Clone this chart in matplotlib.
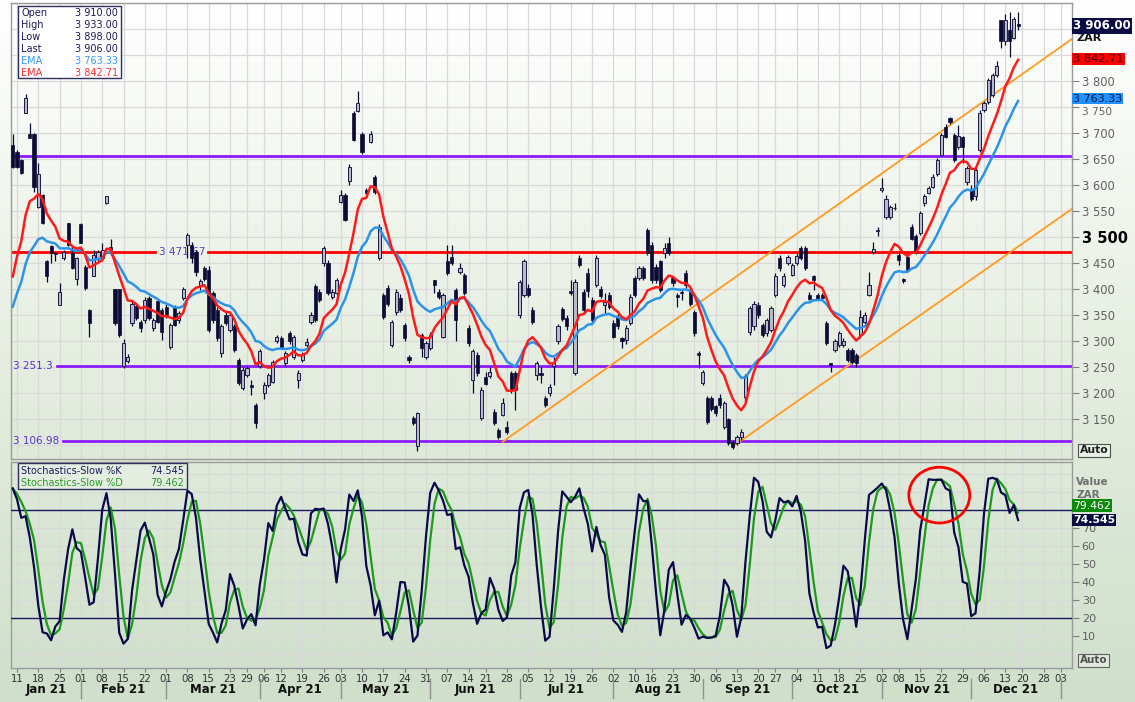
import numpy as np
import pandas as pd
import matplotlib
matplotlib.use("Agg")
import matplotlib.pyplot as plt
from matplotlib.patches import Rectangle, Ellipse
from matplotlib.colors import LinearSegmentedColormap

plt.rcParams['font.family'] = ['DejaVu Sans']

# ---------------- data (daily candles, 8 Jan 2021 .. 17 Dec 2021) ----------------
opens = [3677, 3664, 3648, 3739, 3699, 3699, 3558, 3581, 3453, 3483,
         3470, 3369, 3459, 3526, 3469, 3419, 3525, 3443, 3360, 3424,
         3459, 3459, 3565, 3481, 3399, 3399, 3251, 3262, 3334, 3368,
         3337, 3340, 3382, 3324, 3376, 3360, 3366, 3289, 3366, 3340,
         3382, 3485, 3485, 3472, 3405, 3440, 3437, 3392, 3360, 3276,
         3350, 3321, 3328, 3263, 3209, 3235, 3216, 3177, 3251, 3199,
         3215, 3222, 3299, 3305, 3257, 3315, 3270, 3225, 3264, 3292,
         3337, 3405, 3395, 3449, 3449, 3385, 3392, 3568, 3581, 3607,
         3738, 3743, 3699, 3590, 3683, 3616, 3459, 3388, 3401, 3292,
         3356, 3382, 3331, 3269, 3151, 3098, 3312, 3270, 3286, 3417,
         3395, 3308, 3453, 3462, 3398, 3433, 3427, 3324, 3225, 3273,
         3151, 3231, 3232, 3164, 3129, 3158, 3135, 3238, 3238, 3350,
         3389, 3401, 3360, 3235, 3239, 3190, 3199, 3251, 3299, 3361,
         3344, 3396, 3238, 3459, 3395, 3430, 3379, 3408, 3399, 3369,
         3389, 3334, 3347, 3305, 3302, 3334, 3421, 3421, 3440, 3514,
         3485, 3443, 3453, 3469, 3489, 3421, 3389, 3395, 3430, 3398,
         3356, 3276, 3219, 3190, 3190, 3174, 3190, 3135, 3149, 3106,
         3104, 3116, 3193, 3318, 3328, 3369, 3331, 3315, 3321, 3389,
         3459, 3408, 3449, 3427, 3449, 3478, 3478, 3389, 3424, 3389,
         3388, 3334, 3257, 3283, 3292, 3292, 3283, 3283, 3273, 3311,
         3337, 3389, 3472, 3512, 3590, 3539, 3539, 3555, 3465, 3419,
         3462, 3520, 3501, 3507, 3565, 3585, 3597, 3622, 3658, 3712,
         3728, 3696, 3674, 3693, 3606, 3590, 3578, 3667, 3744, 3760,
         3773, 3811, 3917, 3876, 3898, 3882, 3910]
highs = [3699, 3668, 3650, 3775, 3720, 3700, 3642, 3583, 3456, 3485,
         3472, 3411, 3475, 3526, 3482, 3462, 3526, 3446, 3361, 3475,
         3475, 3488, 3578, 3497, 3399, 3399, 3303, 3275, 3376, 3372,
         3340, 3385, 3386, 3345, 3380, 3364, 3372, 3335, 3370, 3358,
         3404, 3508, 3490, 3475, 3420, 3445, 3445, 3396, 3365, 3332,
         3355, 3355, 3332, 3268, 3250, 3252, 3225, 3180, 3285, 3222,
         3238, 3264, 3312, 3310, 3280, 3320, 3312, 3245, 3278, 3305,
         3355, 3410, 3400, 3482, 3455, 3400, 3422, 3590, 3585, 3640,
         3742, 3780, 3702, 3595, 3703, 3620, 3525, 3393, 3408, 3340,
         3400, 3390, 3335, 3273, 3156, 3163, 3316, 3300, 3318, 3418,
         3400, 3392, 3485, 3485, 3402, 3450, 3430, 3330, 3285, 3278,
         3212, 3240, 3250, 3170, 3132, 3190, 3147, 3242, 3242, 3418,
         3458, 3410, 3365, 3262, 3250, 3195, 3218, 3270, 3333, 3366,
         3350, 3417, 3420, 3465, 3400, 3440, 3385, 3465, 3405, 3392,
         3395, 3340, 3352, 3308, 3330, 3390, 3425, 3445, 3445, 3518,
         3490, 3448, 3456, 3488, 3500, 3425, 3392, 3398, 3437, 3402,
         3360, 3280, 3245, 3195, 3195, 3176, 3198, 3185, 3152, 3110,
         3120, 3130, 3236, 3368, 3376, 3375, 3335, 3345, 3368, 3430,
         3465, 3430, 3466, 3450, 3470, 3482, 3482, 3395, 3426, 3392,
         3392, 3338, 3258, 3303, 3320, 3305, 3286, 3286, 3276, 3360,
         3355, 3433, 3491, 3520, 3613, 3580, 3562, 3565, 3472, 3422,
         3466, 3525, 3506, 3550, 3582, 3598, 3622, 3652, 3700, 3718,
         3731, 3700, 3715, 3695, 3636, 3600, 3632, 3745, 3762, 3806,
         3816, 3838, 3918, 3928, 3933, 3924, 3933]
lows = [3632, 3632, 3621, 3738, 3690, 3587, 3555, 3525, 3414, 3450,
        3453, 3369, 3456, 3482, 3438, 3408, 3488, 3398, 3308, 3424,
        3453, 3456, 3564, 3465, 3331, 3308, 3248, 3257, 3329, 3340,
        3318, 3335, 3340, 3320, 3334, 3302, 3345, 3285, 3328, 3335,
        3378, 3460, 3450, 3425, 3398, 3415, 3318, 3335, 3300, 3270,
        3330, 3318, 3278, 3215, 3205, 3230, 3196, 3132, 3248, 3188,
        3212, 3220, 3296, 3285, 3252, 3295, 3265, 3209, 3260, 3288,
        3333, 3336, 3375, 3445, 3388, 3380, 3388, 3565, 3530, 3600,
        3684, 3740, 3660, 3580, 3680, 3583, 3455, 3342, 3368, 3288,
        3350, 3355, 3300, 3257, 3138, 3088, 3270, 3265, 3282, 3392,
        3380, 3305, 3427, 3447, 3299, 3428, 3388, 3290, 3200, 3232,
        3148, 3215, 3228, 3138, 3112, 3155, 3122, 3200, 3167, 3345,
        3385, 3385, 3333, 3225, 3219, 3173, 3195, 3215, 3295, 3338,
        3321, 3388, 3234, 3442, 3355, 3385, 3335, 3404, 3382, 3353,
        3362, 3305, 3323, 3286, 3295, 3330, 3385, 3418, 3418, 3465,
        3412, 3412, 3395, 3459, 3465, 3406, 3366, 3379, 3401, 3368,
        3310, 3248, 3215, 3140, 3165, 3155, 3172, 3130, 3100, 3093,
        3100, 3110, 3185, 3312, 3322, 3345, 3308, 3310, 3318, 3385,
        3435, 3404, 3446, 3424, 3446, 3455, 3436, 3378, 3398, 3378,
        3378, 3292, 3241, 3278, 3288, 3288, 3260, 3256, 3250, 3305,
        3333, 3386, 3468, 3501, 3587, 3535, 3535, 3552, 3446, 3412,
        3433, 3494, 3468, 3503, 3560, 3582, 3594, 3618, 3655, 3690,
        3718, 3645, 3670, 3642, 3600, 3570, 3571, 3663, 3740, 3755,
        3770, 3808, 3863, 3870, 3847, 3880, 3898]
closes = [3634, 3634, 3624, 3767, 3690, 3597, 3622, 3526, 3424, 3469,
          3467, 3395, 3472, 3485, 3440, 3459, 3488, 3401, 3334, 3465,
          3472, 3475, 3578, 3474, 3334, 3312, 3296, 3270, 3372, 3345,
          3324, 3379, 3344, 3340, 3337, 3318, 3350, 3331, 3331, 3353,
          3399, 3504, 3459, 3433, 3415, 3420, 3321, 3340, 3305, 3328,
          3334, 3350, 3283, 3219, 3244, 3248, 3212, 3142, 3280, 3215,
          3235, 3260, 3308, 3289, 3276, 3299, 3308, 3238, 3273, 3298,
          3350, 3340, 3379, 3478, 3392, 3395, 3417, 3580, 3533, 3634,
          3687, 3757, 3664, 3584, 3698, 3587, 3520, 3347, 3372, 3337,
          3395, 3360, 3305, 3264, 3142, 3161, 3286, 3296, 3312, 3408,
          3385, 3388, 3430, 3449, 3340, 3440, 3392, 3296, 3280, 3238,
          3206, 3218, 3241, 3142, 3116, 3180, 3124, 3206, 3206, 3414,
          3453, 3389, 3337, 3257, 3235, 3177, 3212, 3257, 3328, 3342,
          3328, 3392, 3414, 3446, 3360, 3397, 3340, 3459, 3387, 3374,
          3366, 3308, 3328, 3299, 3324, 3385, 3389, 3440, 3421, 3469,
          3417, 3417, 3398, 3478, 3469, 3411, 3385, 3392, 3408, 3372,
          3315, 3273, 3241, 3145, 3170, 3161, 3177, 3180, 3103, 3097,
          3116, 3125, 3232, 3363, 3372, 3350, 3312, 3340, 3363, 3424,
          3440, 3424, 3462, 3446, 3464, 3459, 3440, 3381, 3418, 3381,
          3382, 3296, 3254, 3299, 3315, 3299, 3264, 3260, 3257, 3347,
          3350, 3408, 3476, 3514, 3594, 3574, 3558, 3556, 3456, 3416,
          3437, 3497, 3472, 3546, 3578, 3594, 3616, 3648, 3696, 3693,
          3722, 3649, 3694, 3674, 3632, 3574, 3629, 3739, 3757, 3802,
          3811, 3829, 3876, 3917, 3876, 3920, 3906]

ema_fast_start = 3424      # EMA(10) value at the first candle
ema_slow_start = 3366      # EMA(20) value at the first candle
stoch_fast_head = [92, 80, 55]   # raw %K for the first 3 candles (look-back before chart)

# values printed in the chart's legends / axis boxes
ema_slow_label = 3763.33
ema_fast_label = 3842.71
stoch_k_label = 74.545
stoch_d_label = 79.462

support_levels = [3656.0, 3251.3, 3106.98]
resist_level = 3471.67
channel_upper = [("2021-06-25", 3106), ("2022-01-06", 3883)]
channel_lower = [("2021-09-10", 3097), ("2022-01-06", 3556)]

holidays = ["2021-01-01", "2021-03-22", "2021-04-02", "2021-04-05", "2021-04-27",
            "2021-06-16", "2021-08-09", "2021-09-24", "2021-11-01", "2021-12-16",
            "2021-12-27", "2022-01-01"]

# ---------------- derived ----------------
dates = pd.bdate_range("2021-01-08", "2022-01-12", freq="C", holidays=holidays)
n = len(closes)
xi = np.arange(n)
O = np.array(opens, float); Hh = np.array(highs, float)
L = np.array(lows, float); C = np.array(closes, float)

def ema(vals, period, start):
    a = 2.0 / (period + 1)
    out = [start]
    for v in vals[1:]:
        out.append(out[-1] + a * (v - out[-1]))
    return np.array(out)

ema_fast = ema(C, 10, ema_fast_start)
ema_slow = ema(C, 20, ema_slow_start)

hh = pd.Series(Hh).rolling(5, min_periods=1).max()
ll = pd.Series(L).rolling(5, min_periods=1).min()
fastk = 100 * (pd.Series(C) - ll) / (hh - ll)
fastk.iloc[:3] = stoch_fast_head
slowk = fastk.rolling(3, min_periods=1).mean().values
slowd = pd.Series(slowk).rolling(3, min_periods=1).mean().values

def didx(s):
    return float(dates.get_indexer([pd.Timestamp(s)], method="nearest")[0])

def fmt(v, nd=2):
    return f"{v:,.{nd}f}".replace(",", " ")

# ---------------- figure ----------------
W, Hp = 1135, 702
fig = plt.figure(figsize=(W / 100, Hp / 100), dpi=100)

def rect(l, t, r, b):
    return [l / W, 1 - b / Hp, (r - l) / W, (b - t) / Hp]

bgax = fig.add_axes([0, 0, 1, 1], zorder=-10)
cmap = LinearSegmentedColormap.from_list("bg", ["#ffffff", "#e6eee1", "#cfdfca"])
bgax.imshow(np.linspace(0, 1, 256).reshape(-1, 1), aspect="auto", cmap=cmap,
            extent=[0, 1, 0, 1], origin="upper")
bgax.set_axis_off()

XL = (-0.41, 248.65)
axp = fig.add_axes(rect(11, 3, 1072, 459))
axs = fig.add_axes(rect(11, 462, 1072, 668))
for a in (axp, axs):
    a.patch.set_alpha(0)
    a.set_xlim(*XL)
    for sp in a.spines.values():
        sp.set_color("#9a9a9a")
        sp.set_linewidth(1)

axp.set_ylim(3073, 3950)
axs.set_ylim(-7.8, 106.7)

# week starts
ser = pd.Series(np.arange(len(dates)), index=dates)
iso = dates.isocalendar()
wk = ser.groupby([iso.year.values, iso.week.values]).first()
week_idx = [int(i) for i in wk.values if 1 <= i <= XL[1]]
week_lab = [dates[i].strftime("%d") for i in week_idx]
mon = ser.groupby([dates.year, dates.month]).first()
mon_idx = [int(v) for v in mon.values]

# grid
for a, ys in ((axp, np.arange(3100, 3951, 50)), (axs, np.arange(0, 101, 10))):
    for wx in week_idx:
        a.axvline(wx, color="#d9d9d9", lw=0.9, zorder=0)
    for yv in ys:
        a.axhline(yv, color="#d9d9d9", lw=0.9, zorder=0)

# candles
up = C >= O
body_lo = np.minimum(O, C)
body_h = np.maximum(np.abs(C - O), 1.5)
axp.vlines(xi, L, Hh, color="#0a0a30", lw=0.9, zorder=3)
axp.bar(xi[~up], body_h[~up], bottom=body_lo[~up], width=0.74, color="#0b0b35",
        edgecolor="#0b0b35", linewidth=0.5, zorder=4)
axp.bar(xi[up], body_h[up], bottom=body_lo[up], width=0.74, color="#b9b9cb",
        edgecolor="#1a1a45", linewidth=0.7, zorder=4)

# EMAs
axp.plot(xi, ema_slow, color="#2b93e8", lw=1.8, zorder=5)
axp.plot(xi, ema_fast, color="#ff1a1a", lw=1.8, zorder=5)

# horizontal levels
frac = lambda px: (px - 11) / 1061.0
axp.axhline(support_levels[0], color="#8a1cff", lw=2, zorder=2)
axp.axhline(support_levels[1], xmin=frac(57), color="#8a1cff", lw=2, zorder=2)
axp.axhline(support_levels[2], xmin=frac(63), color="#8a1cff", lw=2, zorder=2)
axp.axhline(resist_level, xmax=frac(155), color="#ff0000", lw=2, zorder=2)
axp.axhline(resist_level, xmin=frac(208), color="#ff0000", lw=2, zorder=2)
xt = axp.get_yaxis_transform()
axp.text(frac(13), support_levels[1], "3 251.3", transform=xt, color="#5a2fd0",
         fontsize=7.5, va="center", ha="left", zorder=6)
axp.text(frac(13), support_levels[2], "3 106.98", transform=xt, color="#5a2fd0",
         fontsize=7.5, va="center", ha="left", zorder=6)
axp.text(frac(159), resist_level, "3 471.67", transform=xt, color="#5a3fc8",
         fontsize=7.5, va="center", ha="left", zorder=2)

# channel lines
for ch in (channel_upper, channel_lower):
    xs = [didx(d) for d, _ in ch]
    ys = [p for _, p in ch]
    axp.plot(xs, ys, color="#ff9a1f", lw=1.3, zorder=2, clip_on=True)

# price right axis
axp.yaxis.tick_right()
pt = list(range(3150, 3801, 50))
axp.set_yticks(pt)
axp.set_yticklabels([f"{v // 1000} {v % 1000:03d}" for v in pt])
axp.tick_params(axis="y", length=5, color="#808080", labelcolor="#606060",
                labelsize=8.3, pad=2)
for t in axp.get_yticklabels():
    if t.get_text() == "3 500":
        t.set_fontweight("bold"); t.set_fontsize(10.5); t.set_color("#000000")
    if t.get_text() == "3 750":
        t.set_fontsize(7.6)
        t.set_va("top")
axp.set_xticks([])

def rbox(ax, y, s, fc, tc, bold=False, size=8.2, pad=0.1):
    ax.text(1.001, y, s, transform=ax.get_yaxis_transform(), ha="left", va="center",
            fontsize=size, color=tc, fontweight="bold" if bold else "normal",
            bbox=dict(boxstyle=f"square,pad={pad}", fc=fc, ec="none"), zorder=20, clip_on=False)

rbox(axp, C[-1], fmt(C[-1]), "#0c0c45", "#ffffff", bold=True, size=8.5)
axp.text(1.004, 3883, "ZAR", transform=axp.get_yaxis_transform(), ha="left", va="center",
         fontsize=8, fontweight="bold", color="#101010", clip_on=False)
rbox(axp, ema_fast_label, fmt(ema_fast_label), "#ff0000", "#3a0000")
rbox(axp, ema_slow_label + 3, fmt(ema_slow_label), "#1e90ff", "#001a40", size=8.0, pad=0.06)
axp.text(1.0075, 3090, "Auto", transform=axp.get_yaxis_transform(), ha="left", va="center",
         fontsize=7.8, fontweight="bold", color="#202020", clip_on=False,
         bbox=dict(boxstyle="square,pad=0.15", fc="#e8efe4", ec="#505050", lw=0.8))

# price legend
leg = Rectangle((18, Hp - 78), 103, 72, transform=None, fc="#ffffff", ec="#303060", lw=1, zorder=30)
fig.patches.append(leg)
rows = [("Open", O[-1], "#1a1a5a"), ("High", Hh[-1], "#1a1a5a"), ("Low", L[-1], "#1a1a5a"),
        ("Last", C[-1], "#1a1a5a"), ("EMA", ema_slow_label, "#3399ff"),
        ("EMA", ema_fast_label, "#ff2a2a")]
for k, (lab, val, col) in enumerate(rows):
    yy = 1 - (13 + 12 * k) / Hp
    fig.text(21 / W, yy, lab, fontsize=7, color=col, va="center", ha="left", zorder=31)
    fig.text(118 / W, yy, fmt(val), fontsize=7, color=col, va="center", ha="right", zorder=31)

# stochastic
axs.plot(xi, slowd, color="#1c9a1c", lw=1.6, zorder=5)
axs.plot(xi, slowk, color="#0a0a4a", lw=1.6, zorder=6)
axs.axhline(80, color="#1a1a60", lw=1, zorder=3)
axs.axhline(20, color="#1a1a60", lw=1, zorder=3)
axs.add_patch(Ellipse((217.5, 88.3), 14.3, 31, fill=False, ec="#ff0000", lw=2, zorder=8))

axs.yaxis.tick_right()
st = list(range(10, 71, 10))
axs.set_yticks(st)
axs.set_yticklabels([str(v) for v in st])
axs.tick_params(axis="y", length=5, color="#808080", labelcolor="#606060", labelsize=8, pad=2)
axs.text(1.004, 95.5, "Value", transform=axs.get_yaxis_transform(), ha="left", va="center",
         fontsize=7.5, fontweight="bold", color="#707070", clip_on=False)
axs.text(1.004, 88.5, "ZAR", transform=axs.get_yaxis_transform(), ha="left", va="center",
         fontsize=7.5, fontweight="bold", color="#707070", clip_on=False)
rbox(axs, 82.5, f"{stoch_d_label:.3f}", "#0a8a0a", "#ffffff", size=7.8)
rbox(axs, 74.5, f"{stoch_k_label:.3f}", "#0a0a40", "#ffffff", bold=True, size=7.8)
axs.text(1.0075, -3.5, "Auto", transform=axs.get_yaxis_transform(), ha="left", va="center",
         fontsize=7.5, fontweight="bold", color="#505050", clip_on=False,
         bbox=dict(boxstyle="square,pad=0.15", fc="#e0e9dc", ec="#606060", lw=0.8))

sleg = Rectangle((18, Hp - 489), 169, 26, transform=None, fc="#e4eee0", ec="#303060", lw=1, zorder=30)
fig.patches.append(sleg)
for k, (lab, val, col) in enumerate([("Stochastics-Slow %K", stoch_k_label, "#1a1a60"),
                                      ("Stochastics-Slow %D", stoch_d_label, "#2a9a2a")]):
    yy = 1 - (471 + 12 * k) / Hp
    fig.text(21 / W, yy, lab, fontsize=7, color=col, va="center", ha="left", zorder=31)
    fig.text(184 / W, yy, f"{val:.3f}", fontsize=7, color=col, va="center", ha="right", zorder=31)

# x axis labels
axs.set_xticks(week_idx)
axs.set_xticklabels(week_lab)
axs.tick_params(axis="x", length=3, color="#808080", labelcolor="#303030", labelsize=7.3, pad=1)
xtr = axs.get_xaxis_transform()
bounds = [XL[0]] + [m for m in mon_idx if m > 0]
for k in range(len(bounds) - 1):
    a0, a1 = bounds[k], bounds[k + 1]
    if a1 > XL[1] + 1:
        break
    mid = (a0 + a1) / 2
    axs.text(mid, -0.102, dates[int(max(a0, 0))].strftime("%b %y"), transform=xtr,
             ha="center", va="center", fontsize=8.5, fontweight="bold", color="#101010",
             clip_on=False)
for m in mon_idx:
    if 0 < m <= XL[1]:
        axs.plot([m, m], [-0.055, -0.145], transform=xtr, color="#909090", lw=1, clip_on=False)

fig.savefig("out.png", dpi=100)
